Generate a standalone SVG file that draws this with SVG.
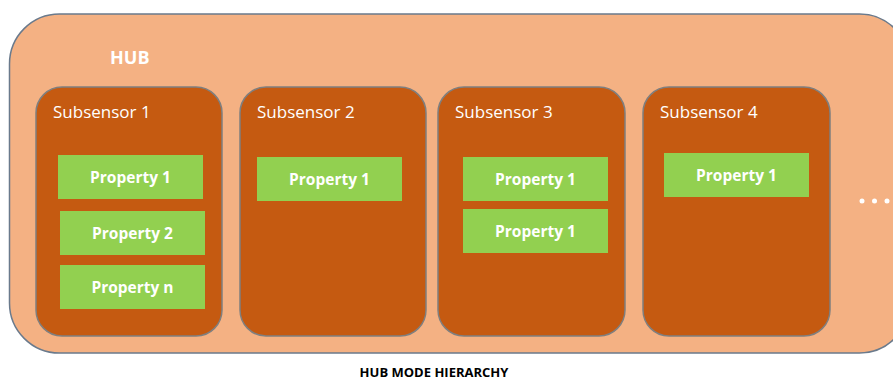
<svg xmlns="http://www.w3.org/2000/svg" width="893" height="380" viewBox="0 0 893 380">
<style>
.hub{fill:#F4B183;stroke:#6A7A8C;stroke-width:1.5}
.sub{fill:#C55A11;stroke:#7F7F7F;stroke-width:1.5}
.prop{fill:#92D050}
.pt{font-family:"Open Sans","Liberation Sans",sans-serif;font-weight:bold;font-size:15.5px;fill:#fff;text-anchor:middle}
.st{font-family:"Open Sans","Liberation Sans",sans-serif;font-size:17px;fill:#fff}
</style>
<rect width="893" height="380" fill="#fff"/>
<g id="hub">
<rect class="hub" x="9.5" y="14" width="900" height="339" rx="50"/>
<text x="110" y="64" font-family="Open Sans, Liberation Sans, sans-serif" font-weight="bold" font-size="18" fill="#fff">HUB</text>
<circle cx="862" cy="201" r="2.5" fill="#fff"/>
<circle cx="874.5" cy="201" r="2.5" fill="#fff"/>
<circle cx="887" cy="201" r="2.5" fill="#fff"/>
</g>
<g id="subsensor1">
<rect class="sub" x="36" y="87" width="186" height="249" rx="26"/>
<text class="st" x="53" y="118">Subsensor 1</text>
</g>
<g id="subsensor2">
<rect class="sub" x="240" y="87" width="186" height="249" rx="26"/>
<text class="st" x="257" y="118">Subsensor 2</text>
</g>
<g id="subsensor3">
<rect class="sub" x="438" y="87" width="187" height="249" rx="26"/>
<text class="st" x="455" y="118">Subsensor 3</text>
</g>
<g id="subsensor4">
<rect class="sub" x="643" y="87" width="187" height="249" rx="26"/>
<text class="st" x="660" y="118">Subsensor 4</text>
</g>
<g id="s1p1"><rect class="prop" x="58" y="155" width="145" height="44"/><text class="pt" x="130.5" y="183">Property 1</text></g>
<g id="s1p2"><rect class="prop" x="60" y="211" width="145" height="44"/><text class="pt" x="132.5" y="239">Property 2</text></g>
<g id="s1pn"><rect class="prop" x="60" y="265" width="145" height="44"/><text class="pt" x="132.5" y="293">Property n</text></g>
<g id="s2p1"><rect class="prop" x="257" y="157" width="145" height="44"/><text class="pt" x="329.5" y="185">Property 1</text></g>
<g id="s3p1"><rect class="prop" x="463" y="157" width="145" height="44"/><text class="pt" x="535.5" y="185">Property 1</text></g>
<g id="s3p2"><rect class="prop" x="463" y="209" width="145" height="44"/><text class="pt" x="535.5" y="237">Property 1</text></g>
<g id="s4p1"><rect class="prop" x="664" y="153" width="145" height="44"/><text class="pt" x="736.5" y="181">Property 1</text></g>
<g id="connectors"/>
<text x="434" y="377" font-family="Open Sans, Liberation Sans, sans-serif" font-weight="bold" font-size="13" fill="#000" text-anchor="middle">HUB MODE HIERARCHY</text>
</svg>
